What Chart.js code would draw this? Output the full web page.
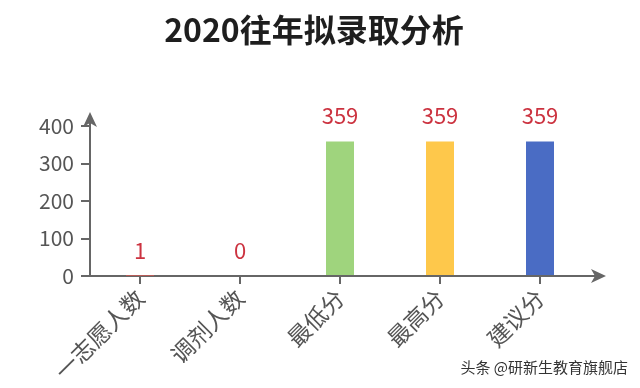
<!DOCTYPE html>
<html>
<head>
<meta charset="utf-8">
<script src="https://cdn.jsdelivr.net/npm/chart.js@4"></script>
<style>
  html, body { margin: 0; padding: 0; background: #fff; }
  #wrap { position: relative; width: 640px; height: 388px; }
  #title { position: absolute; left: 0; top: 5px; width: 628px; text-align: center;
           font: bold 32px "Noto Sans CJK SC", sans-serif; color: #1e1e1e; }
  #mark { position: absolute; right: 12px; top: 356px;
          font: 15px "Noto Sans CJK SC", sans-serif; color: #333; }
</style>
</head>
<body>
<div id="wrap">
  <canvas id="c" width="640" height="388"></canvas>
  <div id="title">2020往年拟录取分析</div>
  <div id="mark">头条 @研新生教育旗舰店</div>
</div>
<script>
var categories = ['一志愿人数', '调剂人数', '最低分', '最高分', '建议分'];
var values = [1, 0, 359, 359, 359];
var barColors = ['#e8574f', '#e8574f', '#9fd47d', '#fec84b', '#4a6cc4'];
var yTicks = [0, 100, 200, 300, 400];

var axisColor = '#666666';
var labelFont = '"Noto Sans CJK SC", sans-serif';

// arrows at the end of both axes + red value labels
var extras = {
    id: 'extras',
    afterDraw: function (chart) {
        var ctx = chart.ctx;
        var a = chart.chartArea;
        ctx.save();
        ctx.strokeStyle = axisColor;
        ctx.fillStyle = axisColor;
        ctx.lineWidth = 2;
        // x axis extension
        ctx.beginPath();
        ctx.moveTo(a.right, a.bottom);
        ctx.lineTo(a.right + 8, a.bottom);
        ctx.stroke();
        var tx = a.right + 16;
        ctx.beginPath();
        ctx.moveTo(tx, a.bottom);
        ctx.lineTo(tx - 15, a.bottom - 7);
        ctx.lineTo(tx - 11, a.bottom);
        ctx.lineTo(tx - 15, a.bottom + 7);
        ctx.closePath();
        ctx.fill();
        // y axis extension
        ctx.beginPath();
        ctx.moveTo(a.left, a.top);
        ctx.lineTo(a.left, a.top - 4);
        ctx.stroke();
        var ty = a.top - 14;
        ctx.beginPath();
        ctx.moveTo(a.left, ty);
        ctx.lineTo(a.left - 7, ty + 15);
        ctx.lineTo(a.left, ty + 11);
        ctx.lineTo(a.left + 7, ty + 15);
        ctx.closePath();
        ctx.fill();

        // value labels
        var meta = chart.getDatasetMeta(0);
        ctx.fillStyle = '#cc3340';
        ctx.font = '22px ' + labelFont;
        ctx.textAlign = 'center';
        ctx.textBaseline = 'alphabetic';
        meta.data.forEach(function (bar, i) {
            ctx.fillText(String(values[i]), bar.x, bar.y - 17);
        });
        ctx.restore();
    }
};

new Chart(document.getElementById('c'), {
    type: 'bar',
    data: {
        labels: categories,
        datasets: [{
            data: values,
            backgroundColor: barColors,
            barPercentage: 0.28,
            categoryPercentage: 1
        }]
    },
    options: {
        responsive: false,
        animation: false,
        layout: { padding: { left: 0, right: 50, top: 126, bottom: 0 } },
        plugins: {
            legend: { display: false },
            tooltip: { enabled: false }
        },
        scales: {
            x: {
                grid: { display: true, offset: false, drawOnChartArea: false, tickLength: 8, color: axisColor, lineWidth: 2 },
                border: { display: true, color: axisColor, width: 2 },
                ticks: { color: '#555', font: { family: labelFont, size: 23 }, minRotation: 45, maxRotation: 45, padding: 0 },
                afterFit: function (s) { s.height = 112; }
            },
            y: {
                min: 0,
                max: 400,
                afterBuildTicks: function (s) { s.ticks = yTicks.map(function (v) { return { value: v }; }); },
                grid: { display: true, drawOnChartArea: false, tickLength: 9, color: axisColor, lineWidth: 2 },
                border: { display: true, color: axisColor, width: 2 },
                ticks: { color: '#555', font: { family: labelFont, size: 21 }, padding: 7 },
                afterFit: function (s) { s.width = 90; }
            }
        }
    },
    plugins: [extras]
});
</script>
</body>
</html>
